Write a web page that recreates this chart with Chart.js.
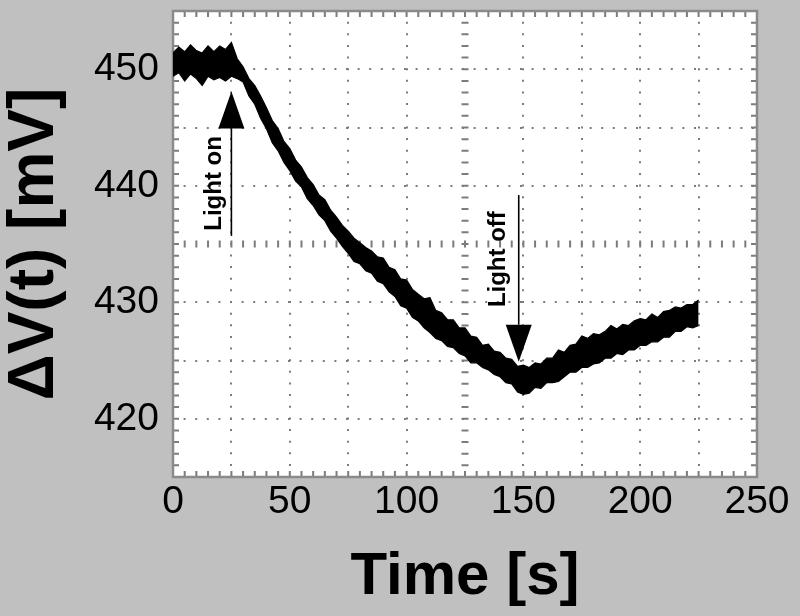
<!DOCTYPE html>
<html>
<head>
<meta charset="utf-8">
<script src="https://cdn.jsdelivr.net/npm/chart.js@4/dist/chart.umd.min.js"></script>
<style>
  body { margin: 0; background: #c0c0c0; }
  #wrap { width: 800px; height: 616px; }
</style>
</head>
<body>
<div id="wrap"><canvas id="chart" width="800" height="616"></canvas></div>
<script>
// time axis of the scope trace, in seconds
const time = [0, 2.5, 5, 7.5, 10, 12.5, 15, 17.5, 20, 22.5, 25, 27.5, 30, 32.5, 35, 37.5, 40, 42.5, 45, 47.5,
  50, 52.5, 55, 57.5, 60, 62.5, 65, 67.5, 70, 72.5, 75, 77.5, 80, 82.5, 85, 87.5, 90, 92.5, 95, 97.5,
  100, 102.5, 105, 107.5, 110, 112.5, 115, 117.5, 120, 122.5, 125, 127.5, 130, 132.5, 135, 137.5, 140, 142.5, 145, 147.5,
  150, 152.5, 155, 157.5, 160, 162.5, 165, 167.5, 170, 172.5, 175, 177.5, 180, 182.5, 185, 187.5, 190, 192.5, 195, 197.5,
  200, 202.5, 205, 207.5, 210, 212.5, 215, 217.5, 220, 222.5, 225];

// upper and lower edge of the noisy trace, mV
const upper = [451.4, 451.9, 451.5, 452.1, 451.6, 451.4, 452.0, 451.5, 452.0, 451.7,
  452.3, 450.9, 450.2, 449.2, 448.6, 447.7, 446.7, 445.6, 444.9, 443.8,
  443.2, 442.2, 441.6, 440.7, 440.1, 439.2, 438.8, 437.9, 437.3, 436.6,
  436.1, 435.5, 435.1, 434.7, 434.4, 433.9, 433.8, 433.0, 432.8, 432.0,
  431.9, 431.1, 430.7, 430.3, 430.4, 429.3, 429.1, 428.5, 428.5, 427.8,
  427.8, 427.1, 427.0, 426.3, 426.4, 425.8, 425.7, 425.2, 425.1, 424.5,
  424.6, 424.4, 424.8, 424.7, 425.2, 425.2, 425.9, 425.7, 426.3, 426.4,
  427.1, 426.9, 427.3, 427.2, 427.5, 428.0, 427.7, 428.1, 428.0, 428.4,
  428.6, 428.5, 429.0, 428.7, 429.2, 429.3, 429.6, 429.5, 429.8, 429.8, 430.2];
const lower = [449.4, 449.7, 449.0, 449.6, 449.2, 448.6, 449.4, 449.1, 449.3, 449.0,
  449.4, 449.2, 448.9, 447.7, 447.0, 445.8, 444.9, 443.7, 443.0, 442.0,
  441.3, 440.4, 439.9, 438.9, 438.3, 437.5, 437.0, 436.1, 435.5, 434.8,
  434.2, 433.5, 433.3, 432.7, 432.5, 431.8, 431.6, 430.9, 430.5, 429.7,
  429.5, 428.7, 428.4, 427.8, 427.4, 426.9, 426.7, 426.2, 426.1, 425.6,
  425.4, 424.8, 424.8, 424.4, 424.2, 423.8, 423.6, 423.1, 423.0, 422.3,
  422.1, 422.2, 422.7, 422.6, 423.1, 423.1, 423.2, 423.6, 424.0, 424.0,
  424.4, 424.4, 424.7, 424.8, 425.2, 425.2, 425.6, 425.5, 425.9, 425.9,
  426.3, 426.3, 426.6, 426.6, 427.0, 427.0, 427.5, 427.5, 427.9, 427.8, 428.0];

const xLabels = [0, 50, 100, 150, 200, 250];
const yLabels = [420, 430, 440, 450];

// arrows with their captions (data units)
const notes = [
  { text: "Light on", t: 25, from: 435.7, to: 448.1, textT: 17.6, textV: 440.2 },
  { text: "Light off", t: 148, from: 439.2, to: 424.9, textT: 139.4, textV: 433.7 }
];

const GRID = "#7c7c7c";
const FRAME = "#8a8a8a";

const scopePlugin = {
  id: "scope",
  beforeDraw(chart) {
    const { ctx, chartArea: a } = chart;
    ctx.save();
    ctx.fillStyle = "#c0c0c0";
    ctx.fillRect(0, 0, chart.width, chart.height);
    ctx.fillStyle = "#fff";
    ctx.fillRect(a.left, a.top, a.right - a.left, a.bottom - a.top);
    ctx.restore();
  },
  beforeDatasetsDraw(chart) {
    const { ctx, chartArea: a, scales: { x, y } } = chart;
    ctx.save();
    ctx.strokeStyle = GRID;
    ctx.lineWidth = 2;
    ctx.beginPath();
    // minor ticks on the frame and on the centre cross
    for (let t = 0; t <= 250; t += 5) {
      const px = x.getPixelForValue(t);
      ctx.moveTo(px, a.top); ctx.lineTo(px, a.top + 6);
      ctx.moveTo(px, a.bottom); ctx.lineTo(px, a.bottom - 6);
      const cy = y.getPixelForValue(435);
      ctx.moveTo(px, cy - 3.5); ctx.lineTo(px, cy + 3.5);
    }
    for (let v = 415; v <= 455; v += 1) {
      const py = y.getPixelForValue(v);
      ctx.moveTo(a.left, py); ctx.lineTo(a.left + 6, py);
      ctx.moveTo(a.right, py); ctx.lineTo(a.right - 6, py);
      const cx = x.getPixelForValue(125);
      ctx.moveTo(cx - 3.5, py); ctx.lineTo(cx + 3.5, py);
    }
    ctx.stroke();
    ctx.strokeStyle = FRAME;
    ctx.lineWidth = 2.5;
    ctx.strokeRect(a.left, a.top, a.right - a.left, a.bottom - a.top);
    ctx.restore();
  },
  afterDatasetsDraw(chart) {
    const { ctx, scales: { x, y } } = chart;
    ctx.save();
    ctx.fillStyle = "#000";
    ctx.strokeStyle = "#000";
    notes.forEach(n => {
      const px = x.getPixelForValue(n.t);
      const y0 = y.getPixelForValue(n.from);
      const y1 = y.getPixelForValue(n.to);
      const dir = y1 < y0 ? -1 : 1;
      const head = 37;
      ctx.lineWidth = 1.6;
      ctx.beginPath();
      ctx.moveTo(px, y0);
      ctx.lineTo(px, y1 - dir * head);
      ctx.stroke();
      ctx.beginPath();
      ctx.moveTo(px, y1);
      ctx.lineTo(px - 13, y1 - dir * head);
      ctx.lineTo(px + 13, y1 - dir * head);
      ctx.closePath();
      ctx.fill();
      ctx.save();
      ctx.translate(x.getPixelForValue(n.textT), y.getPixelForValue(n.textV));
      ctx.rotate(-Math.PI / 2);
      ctx.font = "bold 24px 'Liberation Sans', Arial, sans-serif";
      ctx.textAlign = "center";
      ctx.textBaseline = "middle";
      ctx.fillText(n.text, 0, 0);
      ctx.restore();
    });
    ctx.restore();
  }
};

const ctx = document.getElementById("chart").getContext("2d");
new Chart(ctx, {
  type: "line",
  data: {
    datasets: [
      {
        label: "upper",
        data: time.map((t, i) => ({ x: t, y: upper[i] })),
        borderColor: "#000",
        borderWidth: 1.2,
        pointRadius: 0,
        fill: false
      },
      {
        label: "lower",
        data: time.map((t, i) => ({ x: t, y: lower[i] })),
        borderColor: "#000",
        borderWidth: 1.2,
        backgroundColor: "#000",
        pointRadius: 0,
        fill: "-1"
      }
    ]
  },
  options: {
    responsive: false,
    animation: false,
    layout: { padding: { top: 11, right: 43, left: 0, bottom: 0 } },
    plugins: { legend: { display: false }, tooltip: { enabled: false } },
    scales: {
      x: {
        type: "linear",
        min: 0,
        max: 250,
        afterFit: s => { s.height = 139; s.paddingLeft = 0; s.paddingRight = 0; },
        ticks: {
          stepSize: 25,
          autoSkip: false,
          maxRotation: 0,
          padding: 2,
          color: "#000",
          font: { family: "'Liberation Sans', Arial, sans-serif", size: 39 },
          callback: v => xLabels.includes(v) ? v : ""
        },
        grid: {
          drawTicks: false,
          lineWidth: 2,
          color: c => (c.tick && c.tick.value === 125) ? "rgba(0,0,0,0)" : GRID
        },
        border: { display: false, dash: [2, 9.64], dashOffset: 1 },
        title: {
          display: true,
          text: "Time [s]",
          color: "#000",
          font: { family: "'Liberation Sans', Arial, sans-serif", size: 60, weight: "bold", lineHeight: 0.5 },
          padding: { top: 0, bottom: 24 }
        }
      },
      y: {
        type: "linear",
        min: 415,
        max: 455,
        afterFit: s => { s.width = 173; s.paddingTop = 0; s.paddingBottom = 0; },
        ticks: {
          stepSize: 5,
          autoSkip: false,
          padding: 14,
          color: "#000",
          font: { family: "'Liberation Sans', Arial, sans-serif", size: 39 },
          callback: v => yLabels.includes(v) ? v : ""
        },
        grid: {
          drawTicks: false,
          lineWidth: 2,
          color: c => (c.tick && c.tick.value === 435) ? "rgba(0,0,0,0)" : GRID
        },
        border: { display: false, dash: [2, 9.6], dashOffset: 1 },
        title: {
          display: true,
          text: "ΔV(t) [mV]",
          color: "#000",
          font: { family: "'Liberation Sans', Arial, sans-serif", size: 64, weight: "bold", lineHeight: 1 },
          padding: { top: 3, bottom: 0 }
        }
      }
    }
  },
  plugins: [scopePlugin]
});
</script>
</body>
</html>
